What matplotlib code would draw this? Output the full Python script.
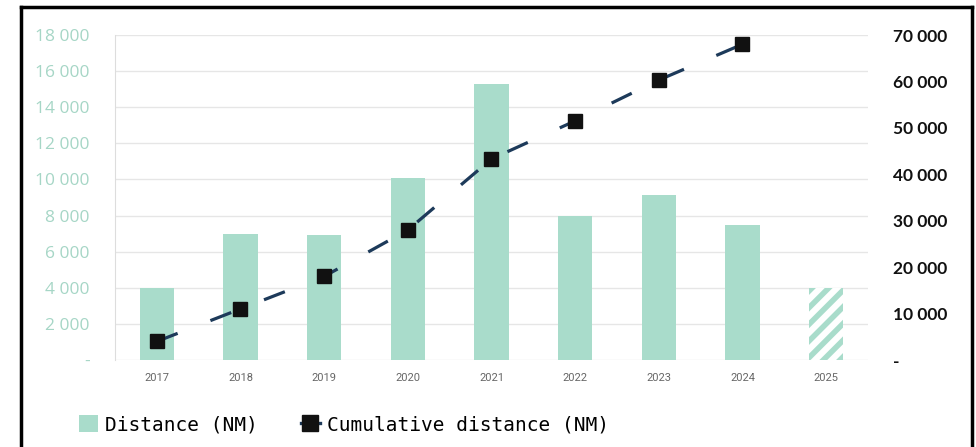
import matplotlib
matplotlib.use("Agg")
import matplotlib.pyplot as plt
from matplotlib.patches import Patch
from matplotlib.lines import Line2D
from matplotlib.ticker import FuncFormatter

# data
years = ["2017", "2018", "2019", "2020", "2021", "2022", "2023", "2024", "2025"]
distance = [4000, 7000, 6900, 10100, 15300, 7950, 9150, 7450, 4000]
cumulative = [4000, 11000, 18000, 28000, 43300, 51500, 60300, 68000]
left_ticks = [0, 2000, 4000, 6000, 8000, 10000, 12000, 14000, 16000, 18000]
right_ticks = [0, 10000, 20000, 30000, 40000, 50000, 60000, 70000]

bar_color = "#a9dccb"
line_color = "#1d3a5a"
plt.rcParams["hatch.linewidth"] = 4


def thousands(v, pos):
    # zero is shown as a dash, thousands separated by a space
    if v == 0:
        return "-"
    return f"{int(v):,}".replace(",", " ")


fig = plt.figure(figsize=(9.76, 4.47), dpi=100)
ax = fig.add_axes([0.1178, 0.1946, 0.7715, 0.7271])
ax2 = ax.twinx()

x = list(range(len(years)))
n_actual = len(cumulative)

# solid bars for completed years, hatched one for the partial year
ax.bar(x[:n_actual], distance[:n_actual], width=0.41, color=bar_color, zorder=2)
ax.bar(x[n_actual:], distance[n_actual:], width=0.41, facecolor="white",
       edgecolor=bar_color, hatch="//", linewidth=0, zorder=2)

ax2.plot(x[:n_actual], cumulative, color=line_color, lw=2.3, dashes=[7, 11],
         marker="s", markersize=10, markerfacecolor="#111111",
         markeredgecolor="#111111", zorder=3)

ax.set_xlim(-0.5, 8.5)
ax.set_ylim(0, 18000)
ax2.set_ylim(0, 70000)
ax.set_xticks(x)
ax.set_xticklabels(years, fontsize=8, color="#666666", family="Roboto")
ax.set_yticks(left_ticks)
ax.yaxis.set_major_formatter(FuncFormatter(thousands))
ax2.set_yticks(right_ticks)
ax2.yaxis.set_major_formatter(FuncFormatter(thousands))

ax.tick_params(axis="y", length=0, pad=18, labelsize=12.5, labelcolor="#a6d6c6")
ax.tick_params(axis="x", length=0, pad=9)
ax2.tick_params(axis="y", length=0, pad=18, labelsize=12.5, labelcolor="#111111")
for lbl in ax.get_yticklabels():
    lbl.set_family("Open Sans")
for lbl in ax2.get_yticklabels():
    lbl.set_family("Lato")
    lbl.set_fontweight("bold")

ax.grid(axis="y", color="#e6e6e6", lw=1, zorder=0)
ax.set_axisbelow(True)
for a in (ax, ax2):
    for side in ("top", "right", "bottom"):
        a.spines[side].set_visible(False)
ax2.spines["left"].set_visible(False)
ax.spines["left"].set_color("#dddddd")

handles = [
    Patch(facecolor=bar_color, edgecolor="none"),
    Line2D([0], [0], color=line_color, lw=2.4, marker="s", markersize=12,
           markerfacecolor="#111111", markeredgecolor="#111111"),
]
fig.legend(handles, ["Distance (NM)", "Cumulative distance (NM)"],
           loc="center left", bbox_to_anchor=(0.063, 0.05), ncol=2,
           frameon=False, handlelength=1.0, handleheight=1.0,
           columnspacing=2.2, handletextpad=0.35,
           prop={"family": "DejaVu Sans Mono", "size": 14})

# black frame around the figure (left, top, right)
frame_kw = dict(color="black", lw=2.5, transform=fig.transFigure)
fig.add_artist(Line2D([0.0215, 0.0215], [0.0, 0.984], **frame_kw))
fig.add_artist(Line2D([0.0215, 0.996], [0.984, 0.984], **frame_kw))
fig.add_artist(Line2D([0.996, 0.996], [0.0, 0.984], **frame_kw))

fig.savefig("out.png", dpi=100)
